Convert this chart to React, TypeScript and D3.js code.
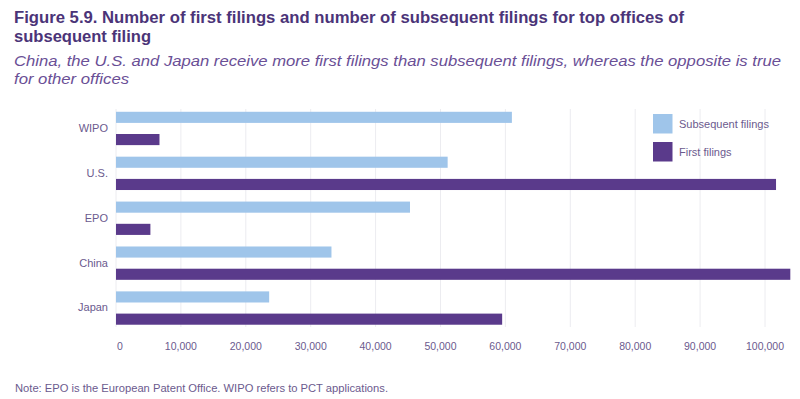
import React, { useEffect, useRef } from "react";
import * as d3 from "d3";

const offices = ["WIPO", "U.S.", "EPO", "China", "Japan"];
const subsequentFilings = [61000, 51100, 45300, 33200, 23600];
const firstFilings = [6700, 101700, 5300, 103900, 59500];
const xTicks = [0, 10000, 20000, 30000, 40000, 50000, 60000, 70000, 80000, 90000, 100000];
const seriesNames = ["Subsequent filings", "First filings"];
const seriesColors = ["#9fc5ea", "#5a3a8b"];

const titleLines = [
  "Figure 5.9. Number of first filings and number of subsequent filings for top offices of",
  "subsequent filing",
];
const subtitleLines = [
  "China, the U.S. and Japan receive more first filings than subsequent filings, whereas the opposite is true",
  "for other offices",
];
const note = "Note: EPO is the European Patent Office. WIPO refers to PCT applications.";

const width = 800;
const height = 399;
const font = "'Liberation Sans', Arial, Helvetica, sans-serif";

const App = () => {
  const svgRef = useRef<SVGSVGElement>(null);

  useEffect(() => {
    const svg = d3.select(svgRef.current);
    svg.selectAll("*").remove();

    const x = d3.scaleLinear().domain([0, 100000]).range([116, 765]);
    const y0 = d3.scaleBand().domain(offices).range([106, 330.5]);
    const y1 = d3.scaleBand()
      .domain(seriesNames)
      .range([0, y0.bandwidth()])
      .paddingInner(0.5)
      .paddingOuter(0.26);

    // title + subtitle
    const titleWidths = [670, 137];
    titleLines.forEach((t, i) => {
      svg.append("text")
        .attr("x", 14).attr("y", 23 + i * 19)
        .attr("font-family", font).attr("font-size", 16).attr("font-weight", "bold")
        .attr("fill", "#4b3478")
        .attr("textLength", titleWidths[i]).attr("lengthAdjust", "spacingAndGlyphs")
        .text(t);
    });
    const subWidths = [767, 115];
    subtitleLines.forEach((t, i) => {
      svg.append("text")
        .attr("x", 14).attr("y", 66 + i * 18)
        .attr("font-family", font).attr("font-size", 14.5).attr("font-style", "italic")
        .attr("fill", "#6a4f96")
        .attr("textLength", subWidths[i]).attr("lengthAdjust", "spacingAndGlyphs")
        .text(t);
    });

    // gridlines
    svg.append("g")
      .selectAll("line")
      .data(xTicks)
      .join("line")
      .attr("x1", (d) => x(d)).attr("x2", (d) => x(d))
      .attr("y1", 109).attr("y2", 327)
      .attr("stroke", "#ececf0").attr("stroke-width", 1);

    // bars
    const groups = svg.append("g")
      .selectAll("g")
      .data(offices)
      .join("g")
      .attr("transform", (d) => `translate(0,${y0(d)})`);

    groups.selectAll("rect")
      .data((d, i) => [
        { key: seriesNames[0], value: subsequentFilings[i] },
        { key: seriesNames[1], value: firstFilings[i] },
      ])
      .join("rect")
      .attr("x", x(0))
      .attr("y", (d) => y1(d.key)!)
      .attr("width", (d) => x(d.value) - x(0))
      .attr("height", y1.bandwidth())
      .attr("fill", (d, i) => seriesColors[i]);

    // category labels
    svg.append("g")
      .selectAll("text")
      .data(offices)
      .join("text")
      .attr("x", 108)
      .attr("y", (d) => y0(d)! + y0.bandwidth() / 2 - 0.5)
      .attr("dy", "0.35em")
      .attr("text-anchor", "end")
      .attr("font-family", font).attr("font-size", 11)
      .attr("fill", "#6b5a8e")
      .text((d) => d);

    // x tick labels
    const fmt = d3.format(",");
    svg.append("g")
      .selectAll("text")
      .data(xTicks)
      .join("text")
      .attr("x", (d) => x(d) + (d === 0 ? 4 : 0))
      .attr("y", 346)
      .attr("dy", "0.35em")
      .attr("text-anchor", "middle")
      .attr("font-family", font).attr("font-size", 10.5)
      .attr("fill", "#6b5a8e")
      .text((d) => fmt(d));

    // legend
    const legend = svg.append("g").attr("transform", "translate(653,114)");
    seriesNames.forEach((name, i) => {
      legend.append("rect")
        .attr("x", 0).attr("y", i * 28)
        .attr("width", 19.5).attr("height", 19.5)
        .attr("fill", seriesColors[i]);
      legend.append("text")
        .attr("x", 26).attr("y", i * 28 + 10)
        .attr("dy", "0.35em")
        .attr("font-family", font).attr("font-size", 11)
        .attr("fill", "#6b5a8e")
        .text(name);
    });

    // note
    svg.append("text")
      .attr("x", 15).attr("y", 392)
      .attr("font-family", font).attr("font-size", 10)
      .attr("fill", "#6b5a8e")
      .attr("textLength", 373).attr("lengthAdjust", "spacingAndGlyphs")
      .text(note);
  }, []);

  return (
    <svg
      ref={svgRef}
      width={width}
      height={height}
      style={{ position: "absolute", left: 0, top: 0, background: "#fff" }}
    />
  );
};

export default App;
